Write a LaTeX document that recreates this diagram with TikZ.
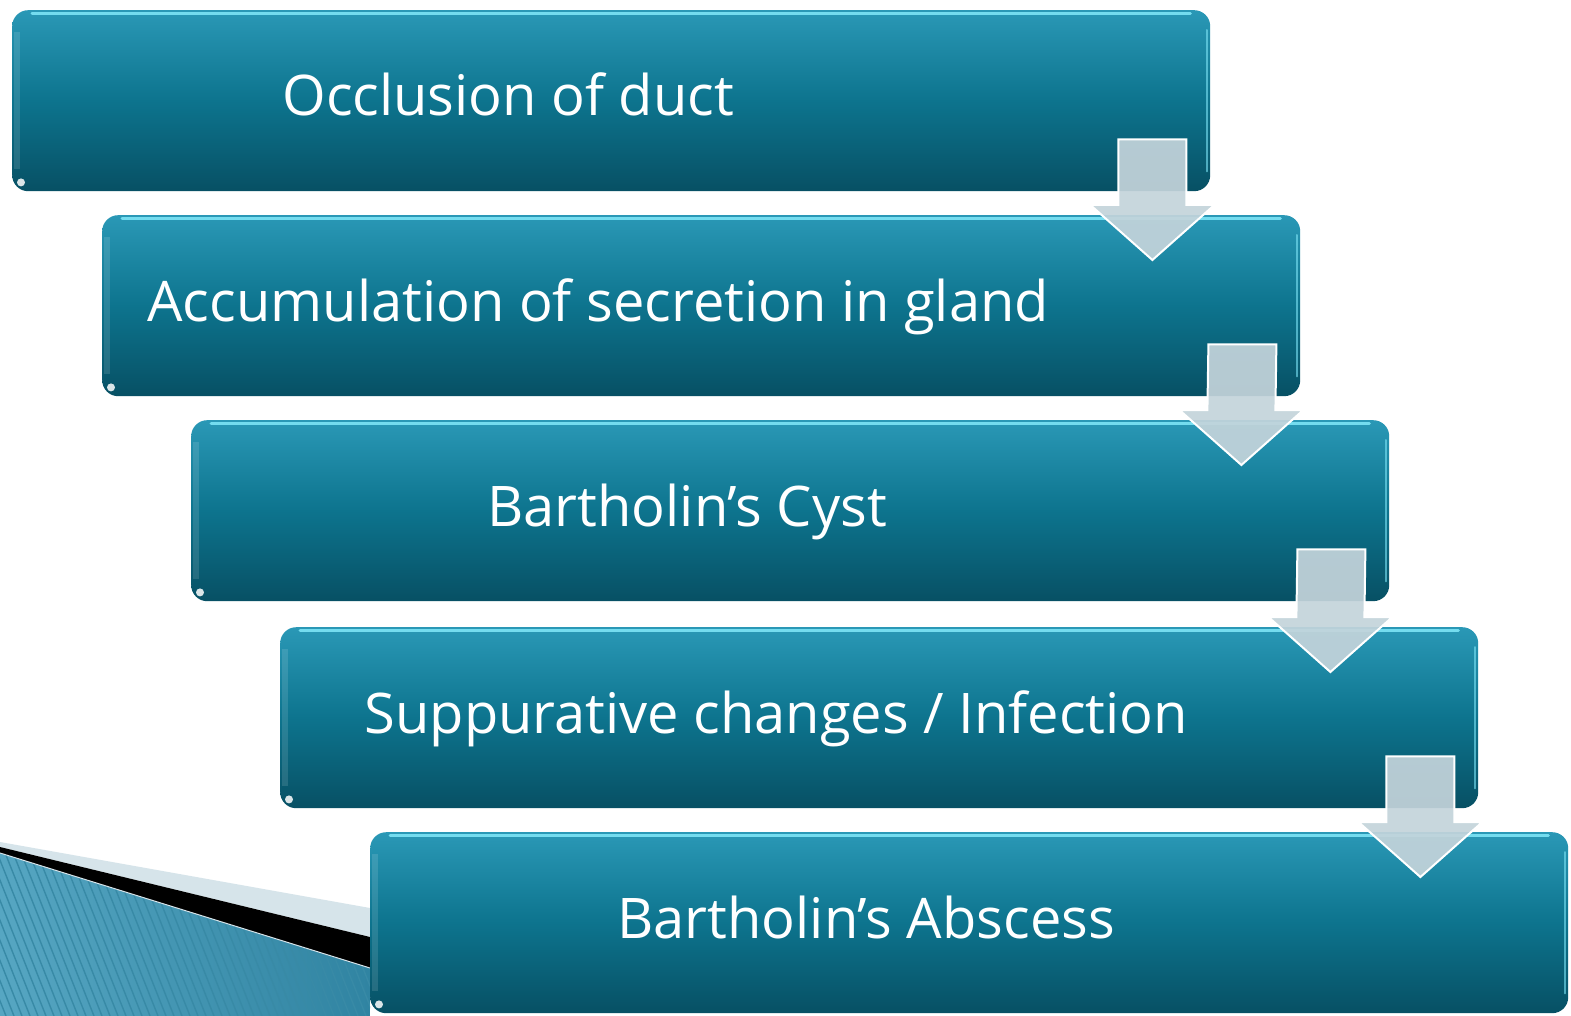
\documentclass[tikz,border=0pt]{standalone}
\usepackage{fontspec}
\setmainfont{Open Sans}
\usetikzlibrary{calc}
\definecolor{boxtop}{RGB}{42,152,182}
\definecolor{boxmid}{RGB}{13,116,142}
\definecolor{boxbot}{RGB}{7,80,100}
\definecolor{glow}{RGB}{125,228,246}
\definecolor{arrowfill}{RGB}{196,212,219}
\definecolor{bandlight}{RGB}{214,228,234}
\definecolor{decolight}{RGB}{86,166,194}
\definecolor{decodark}{RGB}{48,132,162}
\definecolor{stripe}{RGB}{56,138,166}
\pgfdeclarelayer{bg}
\pgfsetlayers{bg,main}
\begin{document}
\begin{tikzpicture}[x=1pt,y=-1pt,
  stepbox/.style={rounded corners=16pt, minimum width=1198pt, minimum height=181pt,
    anchor=north west, inner sep=0pt, top color=boxtop, bottom color=boxbot,
    middle color=boxmid, draw=none},
  steptext/.style={anchor=base, text=white, inner sep=0pt, font=\fontsize{56}{60}\selectfont},
  flowarrow/.style={fill=arrowfill, fill opacity=0.92, draw=white, line width=2pt, line join=miter},
]
\useasboundingbox (0,0) rectangle (1571,1016);
\fill[white] (0,0) rectangle (1571,1016);

% bottom-left decoration
\begin{scope}
  \clip (0,853) -- (370,968) -- (370,1016) -- (0,1016) -- cycle;
  \shade[left color=decolight, right color=decodark] (0,840) rectangle (370,1016);
  \foreach \x in {-120,-112,...,380}
    \draw[stripe, line width=1.4pt] (\x,840) -- (\x+70,1016);
\end{scope}
\fill[bandlight] (0,842) -- (370,908) -- (370,937) -- (0,847) -- cycle;
\fill[black] (0,847) -- (370,937) -- (370,968) -- (0,853) -- cycle;
\draw[bandlight, line width=1pt] (0,853) -- (370,968);

% boxes
\foreach \n/\x/\y in {1/12/10, 2/102/215, 3/191/420, 4/280/627, 5/370/832} {
  \node[stepbox] (b\n) at (\x,\y) {};
  \begin{pgfonlayer}{bg}
    \foreach \i in {0,...,6}
      \fill[black, opacity=0.045, rounded corners=18pt]
        ($(b\n.north west)+(-\i*0.8+2,8-\i)$) rectangle ($(b\n.south east)+(\i*0.8-2,5+\i)$);
  \end{pgfonlayer}
  \draw[glow, line width=3pt, line cap=round, opacity=0.9]
    ($(b\n.north west)+(20,3.5)$) -- ($(b\n.north east)+(-20,3.5)$);
  \draw[glow, line width=2pt, line cap=round, opacity=0.6]
    ($(b\n.north east)+(-3,20)$) -- ($(b\n.south east)+(-3,-20)$);
  \draw[white, line width=6pt, opacity=0.12]
    ($(b\n.north west)+(5,22)$) -- ($(b\n.south west)+(5,-22)$);
  \fill[white, opacity=0.85] ($(b\n.south west)+(9,-9)$) circle (4);
}

% texts
\node[steptext] (t1) at ($(b1.north)+(-103,106)$) {Occlusion of duct};
\node[steptext] (t2) at ($(b2.north)+(-103,106)$) {Accumulation of secretion in gland};
\node[steptext] (t3) at ($(b3.north)+(-103,106)$) {Bartholin’s Cyst};
\node[steptext] (t4) at ($(b4.north)+(-103,106)$) {Suppurative changes / Infection};
\node[steptext] (t5) at ($(b5.north)+(-103,106)$) {Bartholin’s Abscess};

% arrows
\foreach \k/\m in {1/2, 2/3, 3/4, 4/5} {
  \coordinate (top\k) at ($(b\k.south east)+(-58,-52)$);
  \coordinate (tip\k) at ($(b\m.north east)+(-148,45)$);
  \draw[flowarrow] ($(top\k)+(-34,0)$) -- ($(top\k)+(34,0)$) -- ($(tip\k)+(34,-55)$)
    -- ($(tip\k)+(62,-55)$) -- (tip\k) -- ($(tip\k)+(-62,-55)$) -- ($(tip\k)+(-34,-55)$) -- cycle;
}
\end{tikzpicture}
\end{document}
